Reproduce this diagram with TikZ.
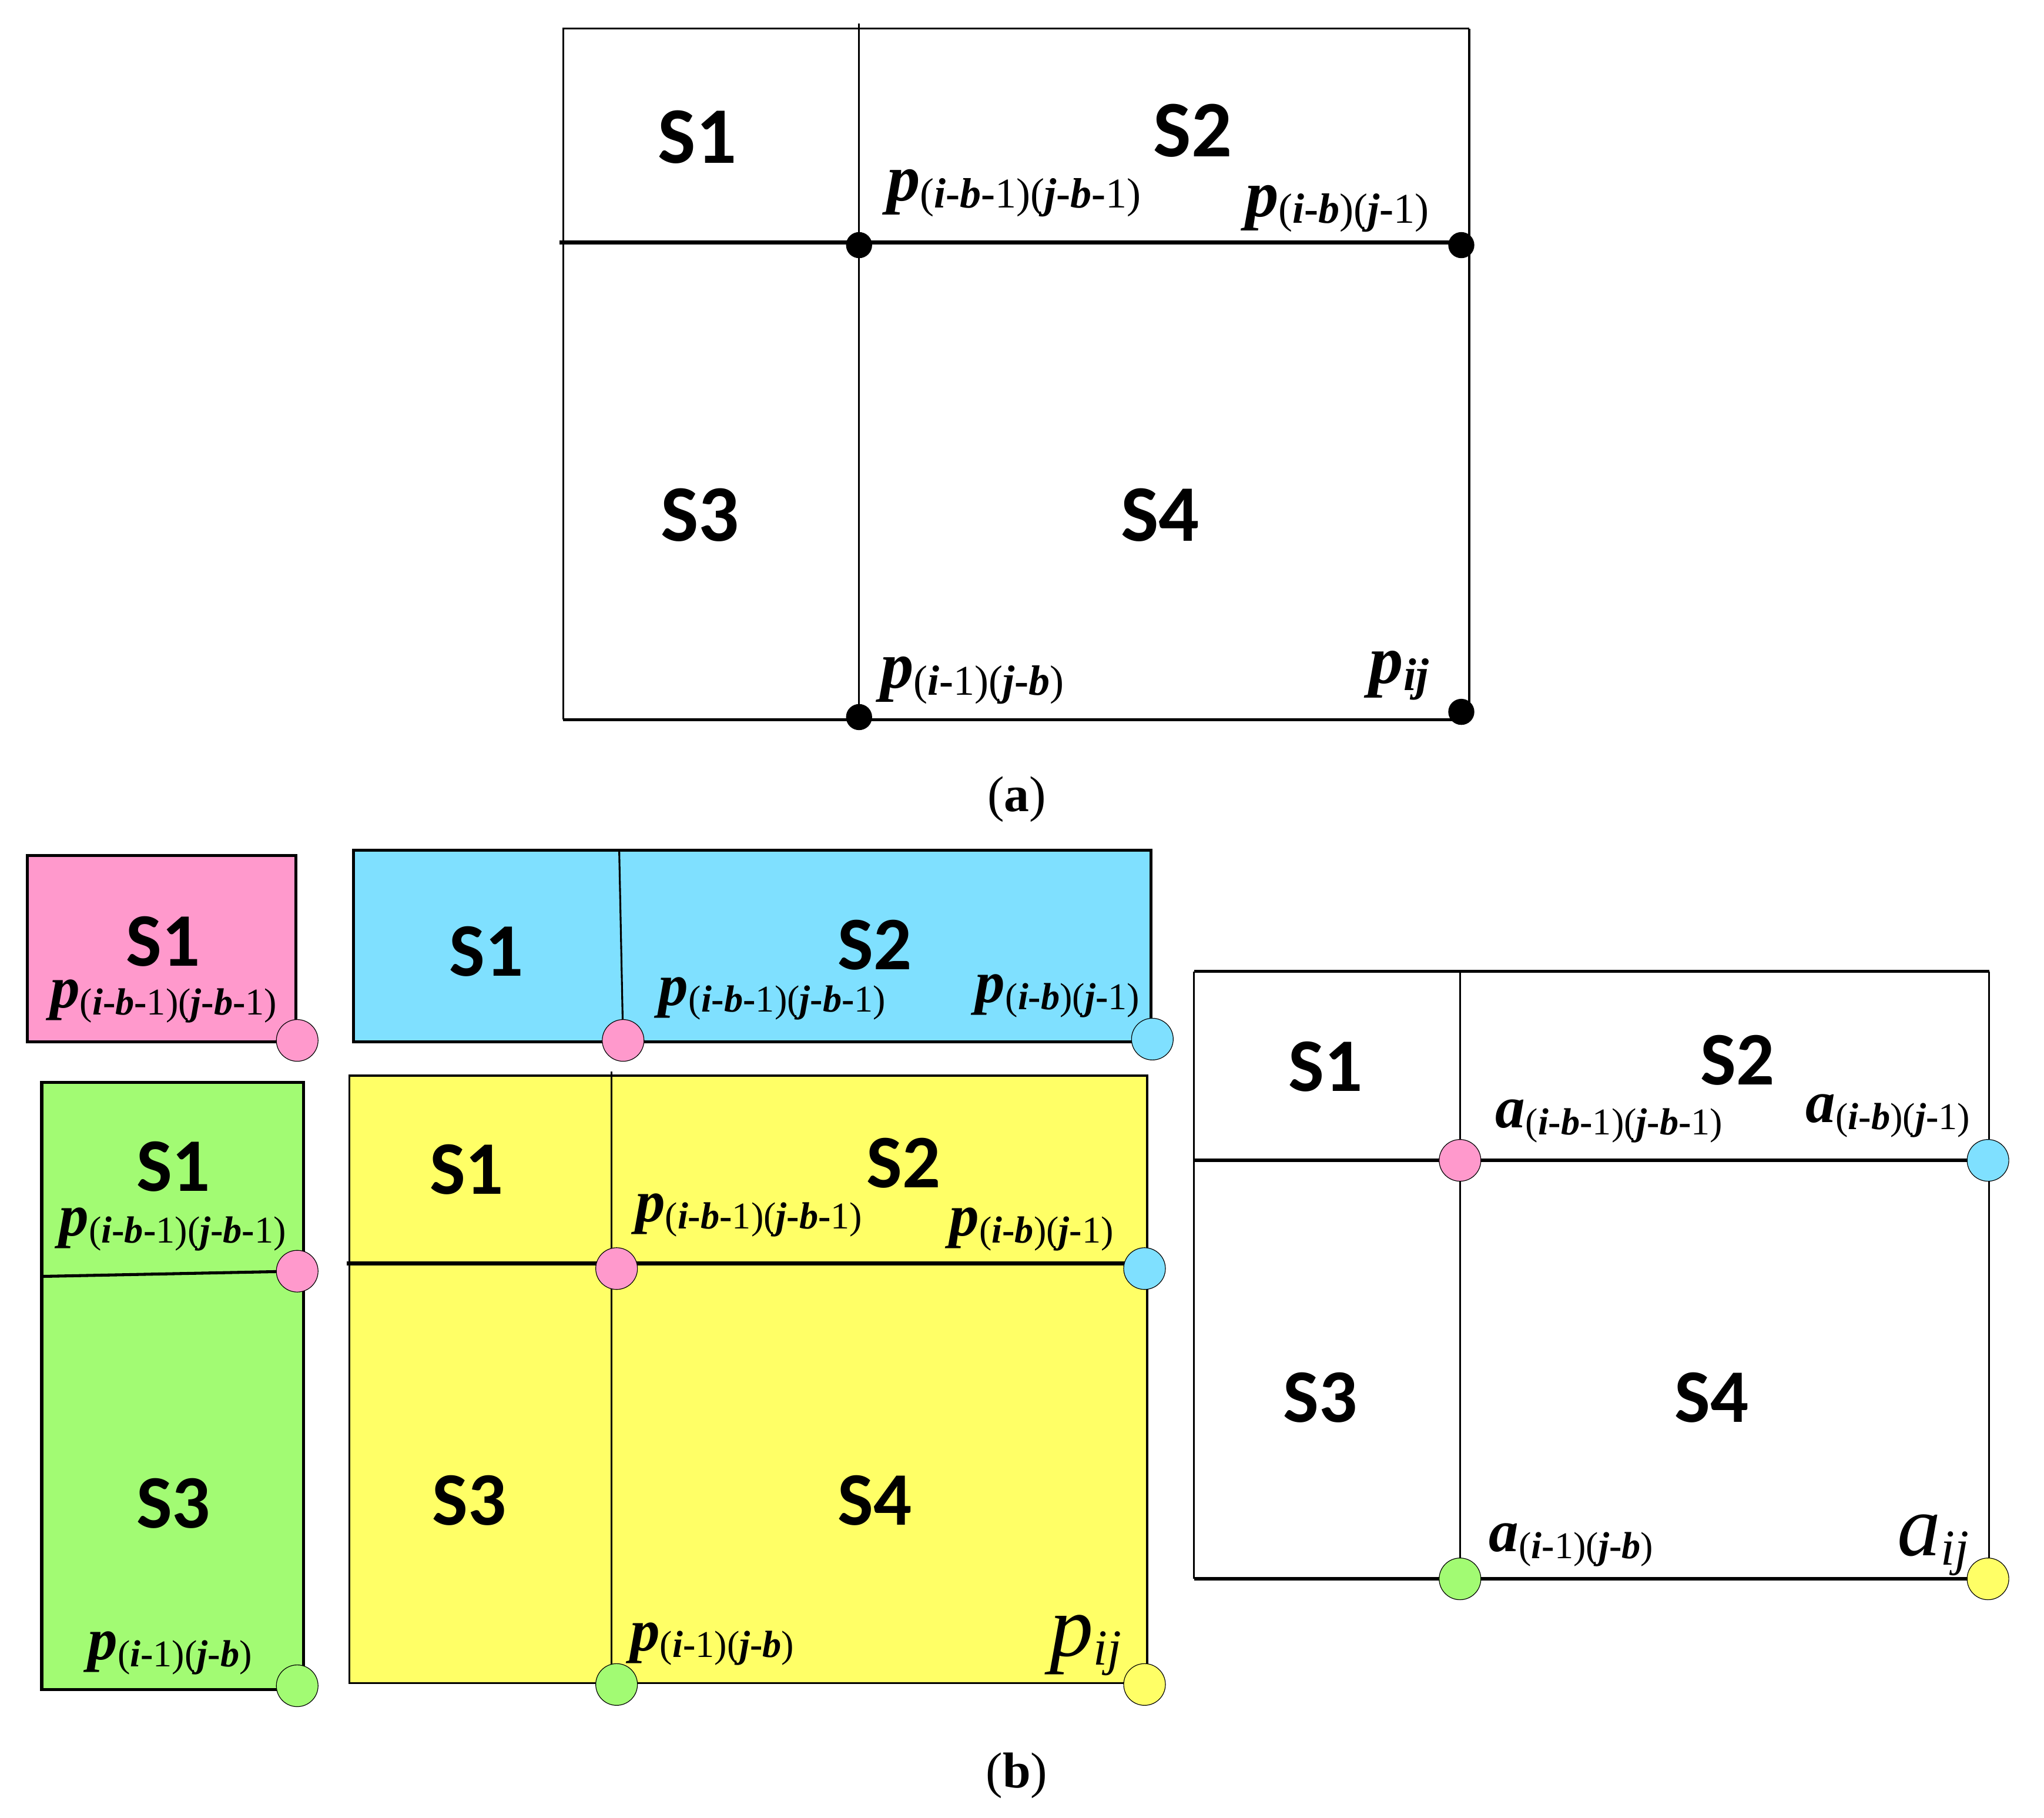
\documentclass[tikz,border=0pt]{standalone}
\usepackage{fontspec}
\setmainfont{Liberation Serif}[BoldFont={Liberation Serif Bold}, ItalicFont={Liberation Serif Italic}, BoldItalicFont={Liberation Serif Bold Italic}]
\newfontfamily\sfont{Carlito}[BoldFont={Carlito Bold}]
\definecolor{pinkc}{HTML}{FF99CC}
\definecolor{bluec}{HTML}{7FE0FF}
\definecolor{greenc}{HTML}{A2FB73}
\definecolor{yellowc}{HTML}{FFFF66}
\newcommand\bi[1]{{\bfseries\itshape #1}}
\newcommand\hy{{\bfseries -}}
\newcommand\LB[4]{{\fontsize{#1}{#1}\selectfont\bfseries\itshape #3}\raisebox{-3pt}{\fontsize{#2}{#2}\selectfont #4}}
\newcommand\LN[4]{{\fontsize{#1}{#1}\selectfont\itshape #3}\raisebox{-4pt}{\fontsize{#2}{#2}\selectfont\itshape #4}}
\newcommand\SubA{(\bi{i}\hy\bi{b}\hy1)(\bi{j}\hy\bi{b}\hy1)}
\newcommand\SubB{(\bi{i}\hy\bi{b})(\bi{j}\hy1)}
\newcommand\SubC{(\bi{i}\hy1)(\bi{j}\hy\bi{b})}
\tikzset{
  sbig/.style={font=\sfont\bfseries\fontsize{35}{35}\selectfont, inner sep=0pt},
  ssmall/.style={font=\sfont\bfseries\fontsize{33}{33}\selectfont, inner sep=0pt},
  lab/.style={anchor=west, inner sep=0pt},
  thinl/.style={line width=0.8pt},
  thickl/.style={line width=1.6pt},
  boxl/.style={line width=1.3pt},
  bdot/.style={circle, fill=black, minimum size=20*0.02cm, inner sep=0pt},
  cdot/.style={circle, draw=black, line width=0.3pt, minimum size=32*0.02cm, inner sep=0pt},
  captext/.style={font=\fontsize{22}{22}\selectfont, inner sep=0pt}
}
\begin{document}
\begin{tikzpicture}[x=0.02cm, y=-0.02cm]
\useasboundingbox (0,0) rectangle (1568,1394);
% ---------------- (a) ----------------
\coordinate (atl) at (432,22); \coordinate (atr) at (1127,22);
\coordinate (abl) at (432,552); \coordinate (abr) at (1127,552);
\coordinate (avt) at (659,18); \coordinate (avb) at (659,552);
\coordinate (ahl) at (429,186); \coordinate (ahr) at (1122,186);
\draw[thinl] (abl) -- (atl) -- (atr);
\draw[line width=1.1pt] (atr) -- (abr) -- (abl);
\draw[thinl] (avt) -- (avb);
\draw[thickl] (ahl) -- (ahr);
\node[bdot] (ad1) at (659,188) {};
\node[bdot] (ad2) at (1121,188) {};
\node[bdot] (ad3) at (659,550) {};
\node[bdot] (ad4) at (1121,546) {};
\node[sbig] (aS1) at (535,105) {S1};
\node[sbig] (aS2) at (915,100) {S2};
\node[sbig] (aS3) at (537,395) {S3};
\node[sbig] (aS4) at (890,395) {S4};
\node[lab] (aL1) at (680,148) {\LB{29}{18.5}{p}{\SubA}};
\node[lab] (aL2) at (955,160) {\LB{29}{18.5}{p}{\SubB}};
\node[lab] (aL3) at (675,522) {\LB{29}{18.5}{p}{\SubC}};
\node[lab] (aL4) at (1050,518) {\LB{30}{20}{p}{\bi{ij}}};
\node[captext] (capa) at (780,613) {(\textbf{a})};
% ---------------- (b) pink ----------------
\coordinate (ptl) at (21,656); \coordinate (pbr) at (227,799);
\draw[boxl, fill=pinkc] (ptl) rectangle (pbr);
\node[ssmall] (pS1) at (125,722) {S1};
\node[lab] (pL1) at (38,768) {\LB{26}{16.5}{p}{\SubA}};
\node[cdot, fill=pinkc] (pc1) at (228,798) {};
% ---------------- (b) blue ----------------
\coordinate (btl) at (271,652); \coordinate (bbr) at (883,799);
\coordinate (bvt) at (475,652); \coordinate (bvb) at (478,799);
\draw[boxl, fill=bluec] (btl) rectangle (bbr);
\draw[thinl] (bvt) -- (bvb);
\node[ssmall] (bS1) at (373,730) {S1};
\node[ssmall] (bS2) at (671,725) {S2};
\node[lab] (bL1) at (505,766) {\LB{26}{16.5}{p}{\SubA}};
\node[lab] (bL2) at (748,764) {\LB{26}{16.5}{p}{\SubB}};
\node[cdot, fill=pinkc] (bc1) at (478,798) {};
\node[cdot, fill=bluec] (bc2) at (884,797) {};
% ---------------- (b) green ----------------
\coordinate (gtl) at (32,830); \coordinate (gbr) at (233,1296);
\coordinate (ghl) at (32,979); \coordinate (ghr) at (228,975);
\draw[boxl, fill=greenc] (gtl) rectangle (gbr);
\draw[boxl] (ghl) -- (ghr);
\node[ssmall] (gS1) at (133,895) {S1};
\node[lab] (gL1) at (45,943) {\LB{26}{16.5}{p}{\SubA}};
\node[ssmall] (gS3) at (133,1153) {S3};
\node[lab] (gL2) at (67,1268) {\LB{26}{16.5}{p}{\SubC}};
\node[cdot, fill=pinkc] (gc1) at (228,975) {};
\node[cdot, fill=greenc] (gc2) at (228,1293) {};
% ---------------- (b) yellow ----------------
\coordinate (ytl) at (268,825); \coordinate (ybr) at (880,1291);
\coordinate (yvt) at (469,822); \coordinate (yvb) at (469,1291);
\coordinate (yhl) at (266,969); \coordinate (yhr) at (880,969);
\draw[thinl, fill=yellowc] (ytl) rectangle (ybr);
\draw[thinl] (yvt) -- (yvb);
\draw[thickl] (yhl) -- (yhr);
\node[ssmall] (yS1) at (358,897) {S1};
\node[ssmall] (yS2) at (693,892) {S2};
\node[ssmall] (yS3) at (360,1151) {S3};
\node[ssmall] (yS4) at (671,1151) {S4};
\node[lab] (yL1) at (487,932) {\LB{26}{16.5}{p}{\SubA}};
\node[lab] (yL2) at (728,943) {\LB{26}{16.5}{p}{\SubB}};
\node[lab] (yL3) at (483,1261) {\LB{26}{16.5}{p}{\SubC}};
\node[lab] (yL4) at (805,1262) {\LN{38}{22}{p}{ij}};
\node[cdot, fill=pinkc] (yc1) at (473,973) {};
\node[cdot, fill=bluec] (yc2) at (878,973) {};
\node[cdot, fill=greenc] (yc3) at (473,1292) {};
\node[cdot, fill=yellowc] (yc4) at (878,1292) {};
% ---------------- (b) right white ----------------
\coordinate (wtl) at (916,745); \coordinate (wtr) at (1526,745);
\coordinate (wbl) at (916,1211); \coordinate (wbr) at (1526,1211);
\coordinate (wvt) at (1120,745); \coordinate (wvb) at (1120,1211);
\coordinate (whl) at (916,890); \coordinate (whr) at (1526,890);
\draw[thinl] (wbl) -- (wtl);
\draw[thinl] (wtr) -- (wbr);
\draw[boxl] (wtl) -- (wtr);
\draw[thickl] (wbl) -- (wbr);
\draw[thinl] (wvt) -- (wvb);
\draw[thickl] (whl) -- (whr);
\node[ssmall] (wS1) at (1017,818) {S1};
\node[ssmall] (wS2) at (1333,813) {S2};
\node[ssmall] (wS3) at (1013,1072) {S3};
\node[ssmall] (wS4) at (1313,1072) {S4};
\node[lab] (wL1) at (1147,860) {\LB{26}{16.5}{a}{\SubA}};
\node[lab] (wL2) at (1385,856) {\LB{26}{16.5}{a}{\SubB}};
\node[lab] (wL3) at (1142,1185) {\LB{26}{16.5}{a}{\SubC}};
\node[lab] (wL4) at (1455,1185) {\LN{38}{22}{a}{ij}};
\node[cdot, fill=pinkc] (wc1) at (1120,890) {};
\node[cdot, fill=bluec] (wc2) at (1525,890) {};
\node[cdot, fill=greenc] (wc3) at (1120,1211) {};
\node[cdot, fill=yellowc] (wc4) at (1525,1211) {};
\node[captext] (capb) at (780,1362) {(\textbf{b})};
\end{tikzpicture}
\end{document}
